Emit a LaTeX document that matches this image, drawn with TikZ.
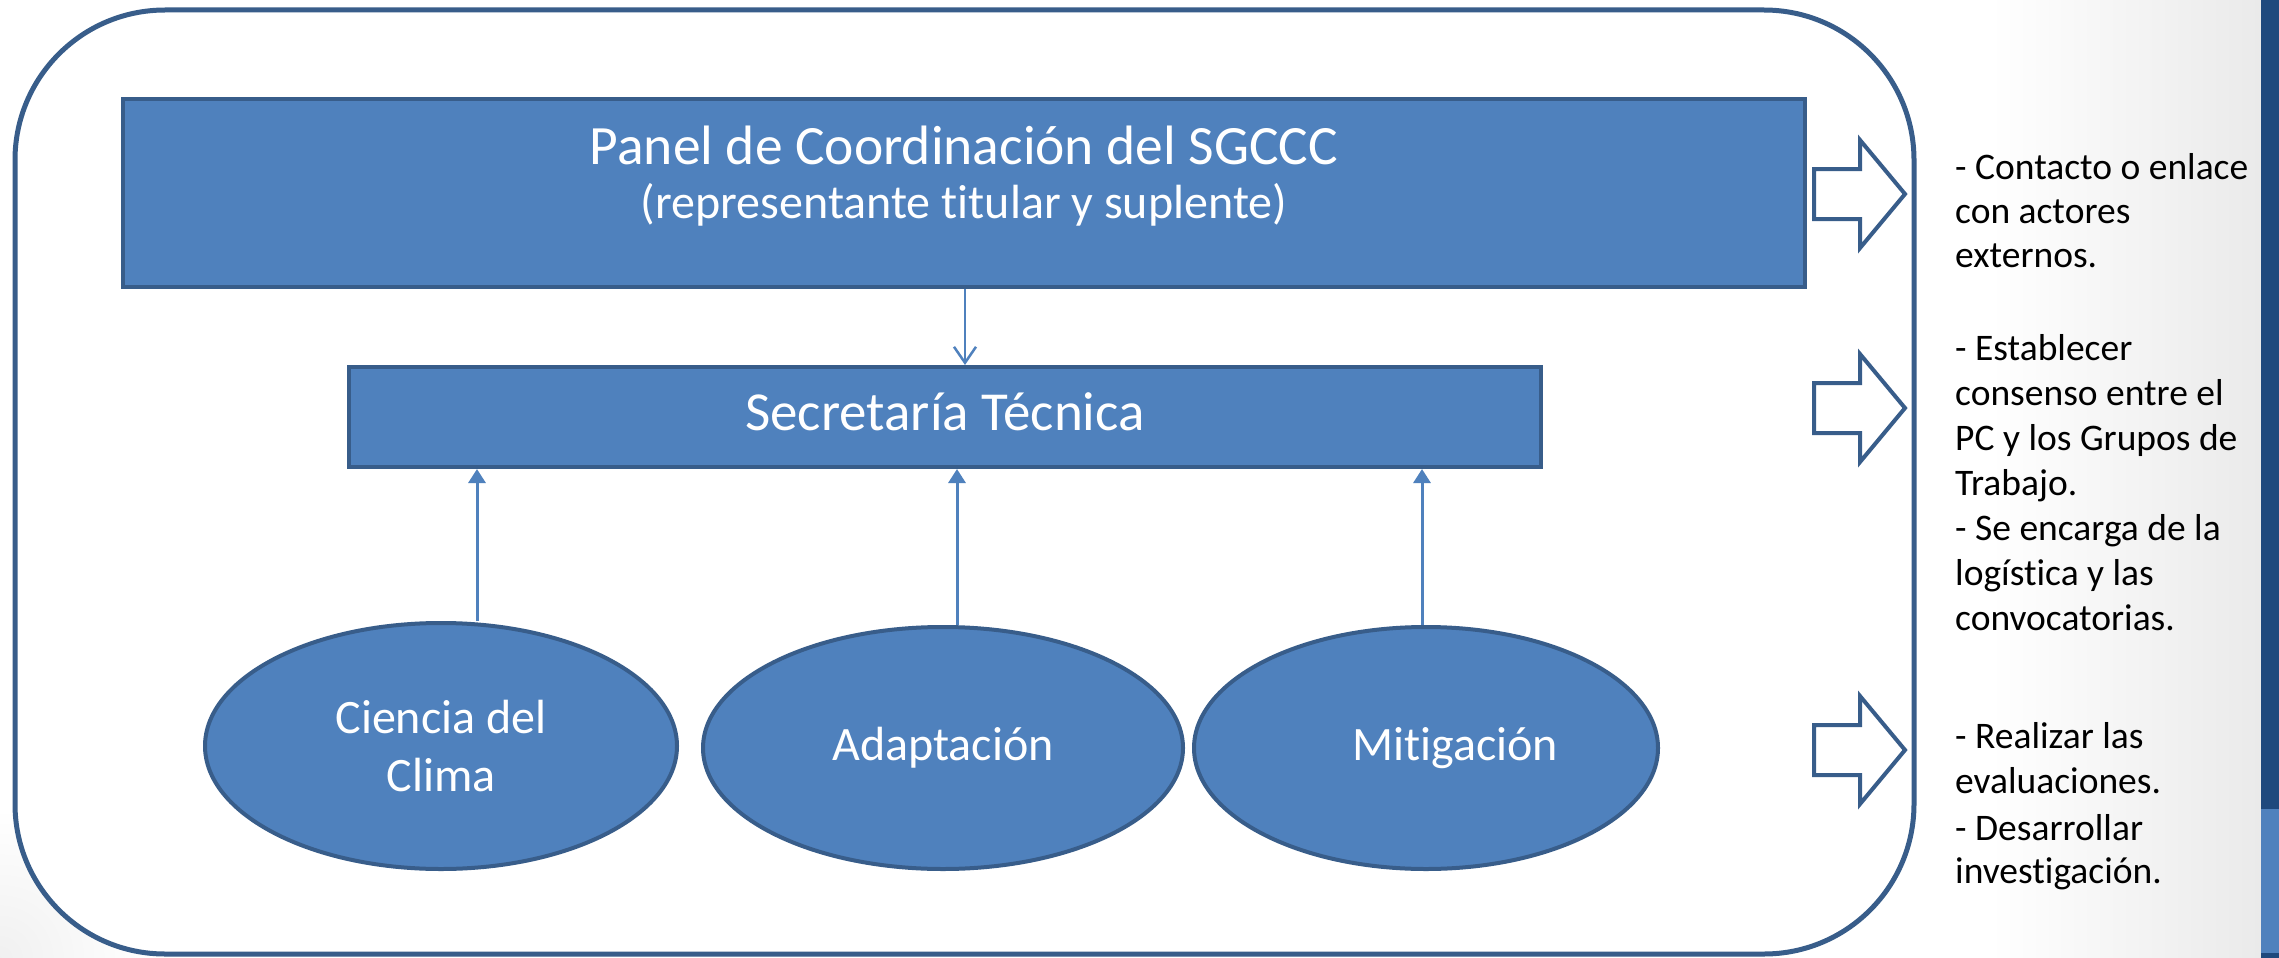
\documentclass[tikz,border=0pt]{standalone}
\usepackage{fontspec}
\setmainfont{Carlito}[Ligatures=NoCommon]
\usetikzlibrary{arrows.meta,shapes.geometric}
\definecolor{fillblue}{HTML}{4F81BD}
\definecolor{lineblue}{HTML}{385D8A}
\definecolor{barblue}{HTML}{1F497D}
\definecolor{bggray}{HTML}{EAEAEA}
\begin{document}
\begin{tikzpicture}[x=1pt,y=-1pt,
  bluebox/.style={draw=lineblue, fill=fillblue, line width=4pt, rectangle, inner sep=0pt, text=white},
  blueell/.style={draw=lineblue, fill=fillblue, line width=4pt, ellipse, inner sep=0pt, text=white, align=center, font=\fontsize{48}{58}\selectfont},
  conn/.style={draw=fillblue, line width=3pt},
  blockarrow/.style={draw=lineblue, line width=4pt, fill=white, line join=miter},
  sidetext/.style={anchor=base west, inner sep=0pt, font=\fontsize{37.5}{45}\selectfont, text=black}
]
\useasboundingbox (0,0) rectangle (2279,958);
\fill[white] (0,0) rectangle (2279,958);
\shade[left color=white, right color=bggray] (1990,0) rectangle (2261,958);
\shade[inner color=bggray!70, outer color=white] (-150,808) rectangle (150,1108);
% right bar
\fill[barblue] (2261,0) rectangle (2279,809);
\fill[fillblue] (2261,809) rectangle (2279,953);
\fill[barblue] (2261,953) rectangle (2279,958);
% outer frame
\fill[white, rounded corners=150pt] (15,10) rectangle (1914,954);
\draw[lineblue, line width=5pt, rounded corners=150pt] (15,10) rectangle (1914,954);
% panel
\node[bluebox, minimum width=1682pt, minimum height=188pt] (panel) at (964,193) {};
\node[anchor=base, text=white, inner sep=0pt, font=\fontsize{55.5}{60}\selectfont] (ptitle) at (964,164) {Panel de Coordinación del SGCCC};
\node[anchor=base, text=white, inner sep=0pt, font=\fontsize{48}{56}\selectfont] (psub) at (964,218) {(representante titular y suplente)};
% secretaria
\node[bluebox, minimum width=1192pt, minimum height=100pt, font=\fontsize{55}{60}\selectfont, text height=30pt, text depth=4pt] (st) at (945,417) {Secretaría Técnica};
% ellipses
\node[blueell, minimum width=472pt, minimum height=246pt] (cc) at (441,746) {Ciencia del\\Clima};
\node[blueell, minimum width=480pt, minimum height=242pt] (ad) at (943,748) {Adaptación};
\node[blueell, minimum width=464pt, minimum height=242pt] (mi) at (1426,748) {\hspace*{58pt}Mitigación};
% connectors
\coordinate (x0) at (965,0);
\coordinate (x1) at (477,0);
\coordinate (x2) at (957,0);
\coordinate (x3) at (1422,0);
\draw[conn, line width=2.5pt, -{Straight Barb[length=16pt,width=22pt,line width=2.5pt]}] (panel.south -| x0) -- (st.north -| x0);
\draw[conn, -{Triangle[length=14pt,width=17pt]}] (cc.north -| x1) -- (st.south -| x1);
\draw[conn, -{Triangle[length=14pt,width=17pt]}] (ad.north -| x2) -- (st.south -| x2);
\draw[conn, -{Triangle[length=14pt,width=17pt]}] (mi.north -| x3) -- (st.south -| x3);
% block arrows
\foreach \yc in {194,408,750} {
  \draw[blockarrow] (1814,\yc-25) -- (1860,\yc-25) -- (1860,\yc-54) -- (1905,\yc) -- (1860,\yc+54) -- (1860,\yc+25) -- (1814,\yc+25) -- cycle;
}
% side texts
\foreach \yy/\txt [count=\i] in {
  179/{- Contacto o enlace},
  223/{con actores},
  267/{externos.},
  360/{- Establecer},
  405/{consenso entre el},
  450/{PC y los Grupos de},
  495/{Trabajo.},
  540/{- Se encarga de la},
  585/{logística y las},
  630/{convocatorias.},
  748/{- Realizar las},
  793/{evaluaciones.},
  840/{- Desarrollar},
  883/{investigación.}} {
  \node[sidetext] (line\i) at (1955,\yy) {\txt};
}
\end{tikzpicture}
\end{document}
